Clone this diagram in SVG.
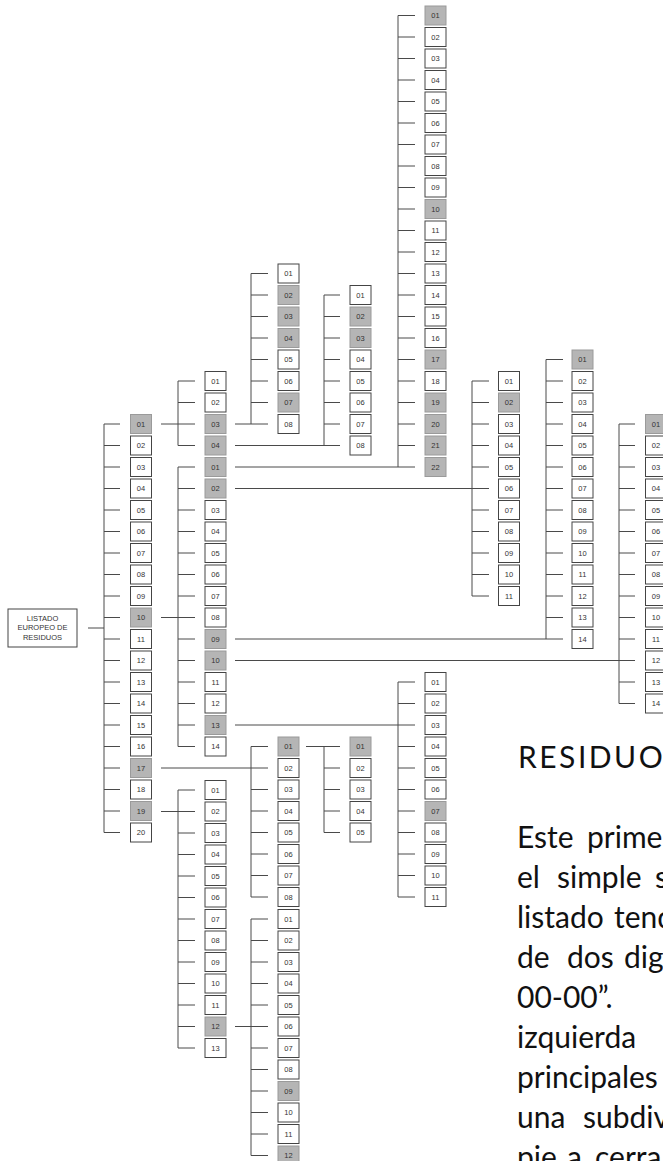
<svg xmlns="http://www.w3.org/2000/svg" width="663" height="1161" viewBox="0 0 663 1161">
<style>
.n rect{fill:#fff;stroke:#444;stroke-width:1}
.n.g rect{fill:#b5b5b5;stroke:#9a9a9a}
.n text{font-family:"Liberation Sans",Arial,sans-serif;font-size:7.5px;fill:#333;text-anchor:middle}
.c path{fill:none;stroke:#4a4a4a;stroke-width:1}
.t{font-family:Lato,"Noto Sans",sans-serif;fill:#111}
</style>
<rect width="663" height="1161" fill="#fff"/>
<g class="c" id="connectors">
<path d="M88,628H104"/>
<path d="M104,424V832.5M104,424h16M104,445.5h16M104,467h16M104,488.5h16M104,510h16M104,531.5h16M104,553h16M104,574.5h16M104,596h16M104,617.5h16M104,639h16M104,660.5h16M104,682h16M104,703.5h16M104,725h16M104,746.5h16M104,768h16M104,789.5h16M104,811h16M104,832.5h16"/>
<path d="M161,424H178M161,617.5H178M161,768H251M161,811.5H178"/>
<path d="M178,381V445.5M178,381h17M178,402.5h17M178,424h17M178,445.5h17"/>
<path d="M178,467V746.5M178,467h17M178,488.5h17M178,510h17M178,531.5h17M178,553h17M178,574.5h17M178,596h17M178,617.5h17M178,639h17M178,660.5h17M178,682h17M178,703.5h17M178,725h17M178,746.5h17"/>
<path d="M178,790V1048M178,790h17M178,811.5h17M178,833h17M178,854.5h17M178,876h17M178,897.5h17M178,919h17M178,940.5h17M178,962h17M178,983.5h17M178,1005h17M178,1026.5h17M178,1048h17"/>
<path d="M235,424H251M235,445.5H324M235,467H398M235,488.5H472M235,639H546M235,660.5H619M235,725H398M306,746.5H324M235,1026.5H251"/>
<path d="M251,273.5V424M251,273.5h17M251,295h17M251,316.5h17M251,338h17M251,359.5h17M251,381h17M251,402.5h17M251,424h17"/>
<path d="M324,295V445.5M324,295h16M324,316.5h16M324,338h16M324,359.5h16M324,381h16M324,402.5h16M324,424h16M324,445.5h16"/>
<path d="M251,746.5V897M251,746.5h17M251,768h17M251,789.5h17M251,811h17M251,832.5h17M251,854h17M251,875.5h17M251,897h17"/>
<path d="M324,746.5V832.5M324,746.5h16M324,768h16M324,789.5h16M324,811h16M324,832.5h16"/>
<path d="M251,919V1155.5M251,919h17M251,940.5h17M251,962h17M251,983.5h17M251,1005h17M251,1026.5h17M251,1048h17M251,1069.5h17M251,1091h17M251,1112.5h17M251,1134h17M251,1155.5h17"/>
<path d="M398,15.5V467M398,15.5h17M398,37h17M398,58.5h17M398,80h17M398,101.5h17M398,123h17M398,144.5h17M398,166h17M398,187.5h17M398,209h17M398,230.5h17M398,252h17M398,273.5h17M398,295h17M398,316.5h17M398,338h17M398,359.5h17M398,381h17M398,402.5h17M398,424h17M398,445.5h17M398,467h17"/>
<path d="M398,682V897M398,682h17M398,703.5h17M398,725h17M398,746.5h17M398,768h17M398,789.5h17M398,811h17M398,832.5h17M398,854h17M398,875.5h17M398,897h17"/>
<path d="M472,381V596M472,381h17M472,402.5h17M472,424h17M472,445.5h17M472,467h17M472,488.5h17M472,510h17M472,531.5h17M472,553h17M472,574.5h17M472,596h17"/>
<path d="M546,359.5V639M546,359.5h17M546,381h17M546,402.5h17M546,424h17M546,445.5h17M546,467h17M546,488.5h17M546,510h17M546,531.5h17M546,553h17M546,574.5h17M546,596h17M546,617.5h17M546,639h17"/>
<path d="M619,424V703.5M619,424h16M619,445.5h16M619,467h16M619,488.5h16M619,510h16M619,531.5h16M619,553h16M619,574.5h16M619,596h16M619,617.5h16M619,639h16M619,660.5h16M619,682h16M619,703.5h16"/>
</g>
<g id="root" class="n"><rect x="8" y="609" width="69" height="38"/><text x="42.5" y="620.5">LISTADO</text><text x="42.5" y="630">EUROPEO DE</text><text x="42.5" y="639.5">RESIDUOS</text></g>
<g id="m01" class="n g" transform="translate(130.5,414.5)"><rect width="21" height="19"/><text x="10.5" y="12">01</text></g>
<g id="m02" class="n" transform="translate(130.5,436)"><rect width="21" height="19"/><text x="10.5" y="12">02</text></g>
<g id="m03" class="n" transform="translate(130.5,457.5)"><rect width="21" height="19"/><text x="10.5" y="12">03</text></g>
<g id="m04" class="n" transform="translate(130.5,479)"><rect width="21" height="19"/><text x="10.5" y="12">04</text></g>
<g id="m05" class="n" transform="translate(130.5,500.5)"><rect width="21" height="19"/><text x="10.5" y="12">05</text></g>
<g id="m06" class="n" transform="translate(130.5,522)"><rect width="21" height="19"/><text x="10.5" y="12">06</text></g>
<g id="m07" class="n" transform="translate(130.5,543.5)"><rect width="21" height="19"/><text x="10.5" y="12">07</text></g>
<g id="m08" class="n" transform="translate(130.5,565)"><rect width="21" height="19"/><text x="10.5" y="12">08</text></g>
<g id="m09" class="n" transform="translate(130.5,586.5)"><rect width="21" height="19"/><text x="10.5" y="12">09</text></g>
<g id="m10" class="n g" transform="translate(130.5,608)"><rect width="21" height="19"/><text x="10.5" y="12">10</text></g>
<g id="m11" class="n" transform="translate(130.5,629.5)"><rect width="21" height="19"/><text x="10.5" y="12">11</text></g>
<g id="m12" class="n" transform="translate(130.5,651)"><rect width="21" height="19"/><text x="10.5" y="12">12</text></g>
<g id="m13" class="n" transform="translate(130.5,672.5)"><rect width="21" height="19"/><text x="10.5" y="12">13</text></g>
<g id="m14" class="n" transform="translate(130.5,694)"><rect width="21" height="19"/><text x="10.5" y="12">14</text></g>
<g id="m15" class="n" transform="translate(130.5,715.5)"><rect width="21" height="19"/><text x="10.5" y="12">15</text></g>
<g id="m16" class="n" transform="translate(130.5,737)"><rect width="21" height="19"/><text x="10.5" y="12">16</text></g>
<g id="m17" class="n g" transform="translate(130.5,758.5)"><rect width="21" height="19"/><text x="10.5" y="12">17</text></g>
<g id="m18" class="n" transform="translate(130.5,780)"><rect width="21" height="19"/><text x="10.5" y="12">18</text></g>
<g id="m19" class="n g" transform="translate(130.5,801.5)"><rect width="21" height="19"/><text x="10.5" y="12">19</text></g>
<g id="m20" class="n" transform="translate(130.5,823)"><rect width="21" height="19"/><text x="10.5" y="12">20</text></g>
<g id="a01" class="n" transform="translate(205,371.5)"><rect width="21" height="19"/><text x="10.5" y="12">01</text></g>
<g id="a02" class="n" transform="translate(205,393)"><rect width="21" height="19"/><text x="10.5" y="12">02</text></g>
<g id="a03" class="n g" transform="translate(205,414.5)"><rect width="21" height="19"/><text x="10.5" y="12">03</text></g>
<g id="a04" class="n g" transform="translate(205,436)"><rect width="21" height="19"/><text x="10.5" y="12">04</text></g>
<g id="b01" class="n g" transform="translate(205,457.5)"><rect width="21" height="19"/><text x="10.5" y="12">01</text></g>
<g id="b02" class="n g" transform="translate(205,479)"><rect width="21" height="19"/><text x="10.5" y="12">02</text></g>
<g id="b03" class="n" transform="translate(205,500.5)"><rect width="21" height="19"/><text x="10.5" y="12">03</text></g>
<g id="b04" class="n" transform="translate(205,522)"><rect width="21" height="19"/><text x="10.5" y="12">04</text></g>
<g id="b05" class="n" transform="translate(205,543.5)"><rect width="21" height="19"/><text x="10.5" y="12">05</text></g>
<g id="b06" class="n" transform="translate(205,565)"><rect width="21" height="19"/><text x="10.5" y="12">06</text></g>
<g id="b07" class="n" transform="translate(205,586.5)"><rect width="21" height="19"/><text x="10.5" y="12">07</text></g>
<g id="b08" class="n" transform="translate(205,608)"><rect width="21" height="19"/><text x="10.5" y="12">08</text></g>
<g id="b09" class="n g" transform="translate(205,629.5)"><rect width="21" height="19"/><text x="10.5" y="12">09</text></g>
<g id="b10" class="n g" transform="translate(205,651)"><rect width="21" height="19"/><text x="10.5" y="12">10</text></g>
<g id="b11" class="n" transform="translate(205,672.5)"><rect width="21" height="19"/><text x="10.5" y="12">11</text></g>
<g id="b12" class="n" transform="translate(205,694)"><rect width="21" height="19"/><text x="10.5" y="12">12</text></g>
<g id="b13" class="n g" transform="translate(205,715.5)"><rect width="21" height="19"/><text x="10.5" y="12">13</text></g>
<g id="b14" class="n" transform="translate(205,737)"><rect width="21" height="19"/><text x="10.5" y="12">14</text></g>
<g id="c01" class="n" transform="translate(205,780.5)"><rect width="21" height="19"/><text x="10.5" y="12">01</text></g>
<g id="c02" class="n" transform="translate(205,802)"><rect width="21" height="19"/><text x="10.5" y="12">02</text></g>
<g id="c03" class="n" transform="translate(205,823.5)"><rect width="21" height="19"/><text x="10.5" y="12">03</text></g>
<g id="c04" class="n" transform="translate(205,845)"><rect width="21" height="19"/><text x="10.5" y="12">04</text></g>
<g id="c05" class="n" transform="translate(205,866.5)"><rect width="21" height="19"/><text x="10.5" y="12">05</text></g>
<g id="c06" class="n" transform="translate(205,888)"><rect width="21" height="19"/><text x="10.5" y="12">06</text></g>
<g id="c07" class="n" transform="translate(205,909.5)"><rect width="21" height="19"/><text x="10.5" y="12">07</text></g>
<g id="c08" class="n" transform="translate(205,931)"><rect width="21" height="19"/><text x="10.5" y="12">08</text></g>
<g id="c09" class="n" transform="translate(205,952.5)"><rect width="21" height="19"/><text x="10.5" y="12">09</text></g>
<g id="c10" class="n" transform="translate(205,974)"><rect width="21" height="19"/><text x="10.5" y="12">10</text></g>
<g id="c11" class="n" transform="translate(205,995.5)"><rect width="21" height="19"/><text x="10.5" y="12">11</text></g>
<g id="c12" class="n g" transform="translate(205,1017)"><rect width="21" height="19"/><text x="10.5" y="12">12</text></g>
<g id="c13" class="n" transform="translate(205,1038.5)"><rect width="21" height="19"/><text x="10.5" y="12">13</text></g>
<g id="d01" class="n" transform="translate(278,264)"><rect width="21" height="19"/><text x="10.5" y="12">01</text></g>
<g id="d02" class="n g" transform="translate(278,285.5)"><rect width="21" height="19"/><text x="10.5" y="12">02</text></g>
<g id="d03" class="n g" transform="translate(278,307)"><rect width="21" height="19"/><text x="10.5" y="12">03</text></g>
<g id="d04" class="n g" transform="translate(278,328.5)"><rect width="21" height="19"/><text x="10.5" y="12">04</text></g>
<g id="d05" class="n" transform="translate(278,350)"><rect width="21" height="19"/><text x="10.5" y="12">05</text></g>
<g id="d06" class="n" transform="translate(278,371.5)"><rect width="21" height="19"/><text x="10.5" y="12">06</text></g>
<g id="d07" class="n g" transform="translate(278,393)"><rect width="21" height="19"/><text x="10.5" y="12">07</text></g>
<g id="d08" class="n" transform="translate(278,414.5)"><rect width="21" height="19"/><text x="10.5" y="12">08</text></g>
<g id="e01" class="n" transform="translate(350,285.5)"><rect width="21" height="19"/><text x="10.5" y="12">01</text></g>
<g id="e02" class="n g" transform="translate(350,307)"><rect width="21" height="19"/><text x="10.5" y="12">02</text></g>
<g id="e03" class="n g" transform="translate(350,328.5)"><rect width="21" height="19"/><text x="10.5" y="12">03</text></g>
<g id="e04" class="n" transform="translate(350,350)"><rect width="21" height="19"/><text x="10.5" y="12">04</text></g>
<g id="e05" class="n" transform="translate(350,371.5)"><rect width="21" height="19"/><text x="10.5" y="12">05</text></g>
<g id="e06" class="n" transform="translate(350,393)"><rect width="21" height="19"/><text x="10.5" y="12">06</text></g>
<g id="e07" class="n" transform="translate(350,414.5)"><rect width="21" height="19"/><text x="10.5" y="12">07</text></g>
<g id="e08" class="n" transform="translate(350,436)"><rect width="21" height="19"/><text x="10.5" y="12">08</text></g>
<g id="f01" class="n g" transform="translate(278,737)"><rect width="21" height="19"/><text x="10.5" y="12">01</text></g>
<g id="f02" class="n" transform="translate(278,758.5)"><rect width="21" height="19"/><text x="10.5" y="12">02</text></g>
<g id="f03" class="n" transform="translate(278,780)"><rect width="21" height="19"/><text x="10.5" y="12">03</text></g>
<g id="f04" class="n" transform="translate(278,801.5)"><rect width="21" height="19"/><text x="10.5" y="12">04</text></g>
<g id="f05" class="n" transform="translate(278,823)"><rect width="21" height="19"/><text x="10.5" y="12">05</text></g>
<g id="f06" class="n" transform="translate(278,844.5)"><rect width="21" height="19"/><text x="10.5" y="12">06</text></g>
<g id="f07" class="n" transform="translate(278,866)"><rect width="21" height="19"/><text x="10.5" y="12">07</text></g>
<g id="f08" class="n" transform="translate(278,887.5)"><rect width="21" height="19"/><text x="10.5" y="12">08</text></g>
<g id="h01" class="n g" transform="translate(350,737)"><rect width="21" height="19"/><text x="10.5" y="12">01</text></g>
<g id="h02" class="n" transform="translate(350,758.5)"><rect width="21" height="19"/><text x="10.5" y="12">02</text></g>
<g id="h03" class="n" transform="translate(350,780)"><rect width="21" height="19"/><text x="10.5" y="12">03</text></g>
<g id="h04" class="n" transform="translate(350,801.5)"><rect width="21" height="19"/><text x="10.5" y="12">04</text></g>
<g id="h05" class="n" transform="translate(350,823)"><rect width="21" height="19"/><text x="10.5" y="12">05</text></g>
<g id="k01" class="n" transform="translate(278,909.5)"><rect width="21" height="19"/><text x="10.5" y="12">01</text></g>
<g id="k02" class="n" transform="translate(278,931)"><rect width="21" height="19"/><text x="10.5" y="12">02</text></g>
<g id="k03" class="n" transform="translate(278,952.5)"><rect width="21" height="19"/><text x="10.5" y="12">03</text></g>
<g id="k04" class="n" transform="translate(278,974)"><rect width="21" height="19"/><text x="10.5" y="12">04</text></g>
<g id="k05" class="n" transform="translate(278,995.5)"><rect width="21" height="19"/><text x="10.5" y="12">05</text></g>
<g id="k06" class="n" transform="translate(278,1017)"><rect width="21" height="19"/><text x="10.5" y="12">06</text></g>
<g id="k07" class="n" transform="translate(278,1038.5)"><rect width="21" height="19"/><text x="10.5" y="12">07</text></g>
<g id="k08" class="n" transform="translate(278,1060)"><rect width="21" height="19"/><text x="10.5" y="12">08</text></g>
<g id="k09" class="n g" transform="translate(278,1081.5)"><rect width="21" height="19"/><text x="10.5" y="12">09</text></g>
<g id="k10" class="n" transform="translate(278,1103)"><rect width="21" height="19"/><text x="10.5" y="12">10</text></g>
<g id="k11" class="n" transform="translate(278,1124.5)"><rect width="21" height="19"/><text x="10.5" y="12">11</text></g>
<g id="k12" class="n g" transform="translate(278,1146)"><rect width="21" height="19"/><text x="10.5" y="12">12</text></g>
<g id="p01" class="n g" transform="translate(425,6)"><rect width="21" height="19"/><text x="10.5" y="12">01</text></g>
<g id="p02" class="n" transform="translate(425,27.5)"><rect width="21" height="19"/><text x="10.5" y="12">02</text></g>
<g id="p03" class="n" transform="translate(425,49)"><rect width="21" height="19"/><text x="10.5" y="12">03</text></g>
<g id="p04" class="n" transform="translate(425,70.5)"><rect width="21" height="19"/><text x="10.5" y="12">04</text></g>
<g id="p05" class="n" transform="translate(425,92)"><rect width="21" height="19"/><text x="10.5" y="12">05</text></g>
<g id="p06" class="n" transform="translate(425,113.5)"><rect width="21" height="19"/><text x="10.5" y="12">06</text></g>
<g id="p07" class="n" transform="translate(425,135)"><rect width="21" height="19"/><text x="10.5" y="12">07</text></g>
<g id="p08" class="n" transform="translate(425,156.5)"><rect width="21" height="19"/><text x="10.5" y="12">08</text></g>
<g id="p09" class="n" transform="translate(425,178)"><rect width="21" height="19"/><text x="10.5" y="12">09</text></g>
<g id="p10" class="n g" transform="translate(425,199.5)"><rect width="21" height="19"/><text x="10.5" y="12">10</text></g>
<g id="p11" class="n" transform="translate(425,221)"><rect width="21" height="19"/><text x="10.5" y="12">11</text></g>
<g id="p12" class="n" transform="translate(425,242.5)"><rect width="21" height="19"/><text x="10.5" y="12">12</text></g>
<g id="p13" class="n" transform="translate(425,264)"><rect width="21" height="19"/><text x="10.5" y="12">13</text></g>
<g id="p14" class="n" transform="translate(425,285.5)"><rect width="21" height="19"/><text x="10.5" y="12">14</text></g>
<g id="p15" class="n" transform="translate(425,307)"><rect width="21" height="19"/><text x="10.5" y="12">15</text></g>
<g id="p16" class="n" transform="translate(425,328.5)"><rect width="21" height="19"/><text x="10.5" y="12">16</text></g>
<g id="p17" class="n g" transform="translate(425,350)"><rect width="21" height="19"/><text x="10.5" y="12">17</text></g>
<g id="p18" class="n" transform="translate(425,371.5)"><rect width="21" height="19"/><text x="10.5" y="12">18</text></g>
<g id="p19" class="n g" transform="translate(425,393)"><rect width="21" height="19"/><text x="10.5" y="12">19</text></g>
<g id="p20" class="n g" transform="translate(425,414.5)"><rect width="21" height="19"/><text x="10.5" y="12">20</text></g>
<g id="p21" class="n g" transform="translate(425,436)"><rect width="21" height="19"/><text x="10.5" y="12">21</text></g>
<g id="p22" class="n g" transform="translate(425,457.5)"><rect width="21" height="19"/><text x="10.5" y="12">22</text></g>
<g id="q01" class="n" transform="translate(425,672.5)"><rect width="21" height="19"/><text x="10.5" y="12">01</text></g>
<g id="q02" class="n" transform="translate(425,694)"><rect width="21" height="19"/><text x="10.5" y="12">02</text></g>
<g id="q03" class="n" transform="translate(425,715.5)"><rect width="21" height="19"/><text x="10.5" y="12">03</text></g>
<g id="q04" class="n" transform="translate(425,737)"><rect width="21" height="19"/><text x="10.5" y="12">04</text></g>
<g id="q05" class="n" transform="translate(425,758.5)"><rect width="21" height="19"/><text x="10.5" y="12">05</text></g>
<g id="q06" class="n" transform="translate(425,780)"><rect width="21" height="19"/><text x="10.5" y="12">06</text></g>
<g id="q07" class="n g" transform="translate(425,801.5)"><rect width="21" height="19"/><text x="10.5" y="12">07</text></g>
<g id="q08" class="n" transform="translate(425,823)"><rect width="21" height="19"/><text x="10.5" y="12">08</text></g>
<g id="q09" class="n" transform="translate(425,844.5)"><rect width="21" height="19"/><text x="10.5" y="12">09</text></g>
<g id="q10" class="n" transform="translate(425,866)"><rect width="21" height="19"/><text x="10.5" y="12">10</text></g>
<g id="q11" class="n" transform="translate(425,887.5)"><rect width="21" height="19"/><text x="10.5" y="12">11</text></g>
<g id="r01" class="n" transform="translate(498.5,371.5)"><rect width="21" height="19"/><text x="10.5" y="12">01</text></g>
<g id="r02" class="n g" transform="translate(498.5,393)"><rect width="21" height="19"/><text x="10.5" y="12">02</text></g>
<g id="r03" class="n" transform="translate(498.5,414.5)"><rect width="21" height="19"/><text x="10.5" y="12">03</text></g>
<g id="r04" class="n" transform="translate(498.5,436)"><rect width="21" height="19"/><text x="10.5" y="12">04</text></g>
<g id="r05" class="n" transform="translate(498.5,457.5)"><rect width="21" height="19"/><text x="10.5" y="12">05</text></g>
<g id="r06" class="n" transform="translate(498.5,479)"><rect width="21" height="19"/><text x="10.5" y="12">06</text></g>
<g id="r07" class="n" transform="translate(498.5,500.5)"><rect width="21" height="19"/><text x="10.5" y="12">07</text></g>
<g id="r08" class="n" transform="translate(498.5,522)"><rect width="21" height="19"/><text x="10.5" y="12">08</text></g>
<g id="r09" class="n" transform="translate(498.5,543.5)"><rect width="21" height="19"/><text x="10.5" y="12">09</text></g>
<g id="r10" class="n" transform="translate(498.5,565)"><rect width="21" height="19"/><text x="10.5" y="12">10</text></g>
<g id="r11" class="n" transform="translate(498.5,586.5)"><rect width="21" height="19"/><text x="10.5" y="12">11</text></g>
<g id="s01" class="n g" transform="translate(572,350)"><rect width="21" height="19"/><text x="10.5" y="12">01</text></g>
<g id="s02" class="n" transform="translate(572,371.5)"><rect width="21" height="19"/><text x="10.5" y="12">02</text></g>
<g id="s03" class="n" transform="translate(572,393)"><rect width="21" height="19"/><text x="10.5" y="12">03</text></g>
<g id="s04" class="n" transform="translate(572,414.5)"><rect width="21" height="19"/><text x="10.5" y="12">04</text></g>
<g id="s05" class="n" transform="translate(572,436)"><rect width="21" height="19"/><text x="10.5" y="12">05</text></g>
<g id="s06" class="n" transform="translate(572,457.5)"><rect width="21" height="19"/><text x="10.5" y="12">06</text></g>
<g id="s07" class="n" transform="translate(572,479)"><rect width="21" height="19"/><text x="10.5" y="12">07</text></g>
<g id="s08" class="n" transform="translate(572,500.5)"><rect width="21" height="19"/><text x="10.5" y="12">08</text></g>
<g id="s09" class="n" transform="translate(572,522)"><rect width="21" height="19"/><text x="10.5" y="12">09</text></g>
<g id="s10" class="n" transform="translate(572,543.5)"><rect width="21" height="19"/><text x="10.5" y="12">10</text></g>
<g id="s11" class="n" transform="translate(572,565)"><rect width="21" height="19"/><text x="10.5" y="12">11</text></g>
<g id="s12" class="n" transform="translate(572,586.5)"><rect width="21" height="19"/><text x="10.5" y="12">12</text></g>
<g id="s13" class="n" transform="translate(572,608)"><rect width="21" height="19"/><text x="10.5" y="12">13</text></g>
<g id="s14" class="n" transform="translate(572,629.5)"><rect width="21" height="19"/><text x="10.5" y="12">14</text></g>
<g id="u01" class="n g" transform="translate(645.5,414.5)"><rect width="21" height="19"/><text x="10.5" y="12">01</text></g>
<g id="u02" class="n" transform="translate(645.5,436)"><rect width="21" height="19"/><text x="10.5" y="12">02</text></g>
<g id="u03" class="n" transform="translate(645.5,457.5)"><rect width="21" height="19"/><text x="10.5" y="12">03</text></g>
<g id="u04" class="n" transform="translate(645.5,479)"><rect width="21" height="19"/><text x="10.5" y="12">04</text></g>
<g id="u05" class="n" transform="translate(645.5,500.5)"><rect width="21" height="19"/><text x="10.5" y="12">05</text></g>
<g id="u06" class="n" transform="translate(645.5,522)"><rect width="21" height="19"/><text x="10.5" y="12">06</text></g>
<g id="u07" class="n" transform="translate(645.5,543.5)"><rect width="21" height="19"/><text x="10.5" y="12">07</text></g>
<g id="u08" class="n" transform="translate(645.5,565)"><rect width="21" height="19"/><text x="10.5" y="12">08</text></g>
<g id="u09" class="n" transform="translate(645.5,586.5)"><rect width="21" height="19"/><text x="10.5" y="12">09</text></g>
<g id="u10" class="n" transform="translate(645.5,608)"><rect width="21" height="19"/><text x="10.5" y="12">10</text></g>
<g id="u11" class="n" transform="translate(645.5,629.5)"><rect width="21" height="19"/><text x="10.5" y="12">11</text></g>
<g id="u12" class="n" transform="translate(645.5,651)"><rect width="21" height="19"/><text x="10.5" y="12">12</text></g>
<g id="u13" class="n" transform="translate(645.5,672.5)"><rect width="21" height="19"/><text x="10.5" y="12">13</text></g>
<g id="u14" class="n" transform="translate(645.5,694)"><rect width="21" height="19"/><text x="10.5" y="12">14</text></g>
<g id="texto" class="t">
<text x="518" y="767.5" font-size="30" letter-spacing="2.5">RESIDUOS</text>
<text font-size="30" y="848"><tspan x="517">Este</tspan><tspan x="587">prime</tspan></text>
<text font-size="30" y="888"><tspan x="517">el</tspan><tspan x="557">simple</tspan><tspan x="655">s</tspan></text>
<text font-size="30" y="928"><tspan x="517">listado</tspan><tspan x="614">tend</tspan></text>
<text font-size="30" y="968"><tspan x="517">de</tspan><tspan x="567">dos</tspan><tspan x="624">dig</tspan></text>
<text font-size="30" y="1008" x="517">00-00”.</text>
<text font-size="30" y="1048" x="517">izquierda</text>
<text font-size="30" y="1088" x="517">principales</text>
<text font-size="30" y="1128"><tspan x="517">una</tspan><tspan x="583">subdiv</tspan></text>
<text font-size="30" y="1168"><tspan x="517">pie</tspan><tspan x="567">a</tspan><tspan x="595">cerra</tspan></text>
</g>
</svg>
